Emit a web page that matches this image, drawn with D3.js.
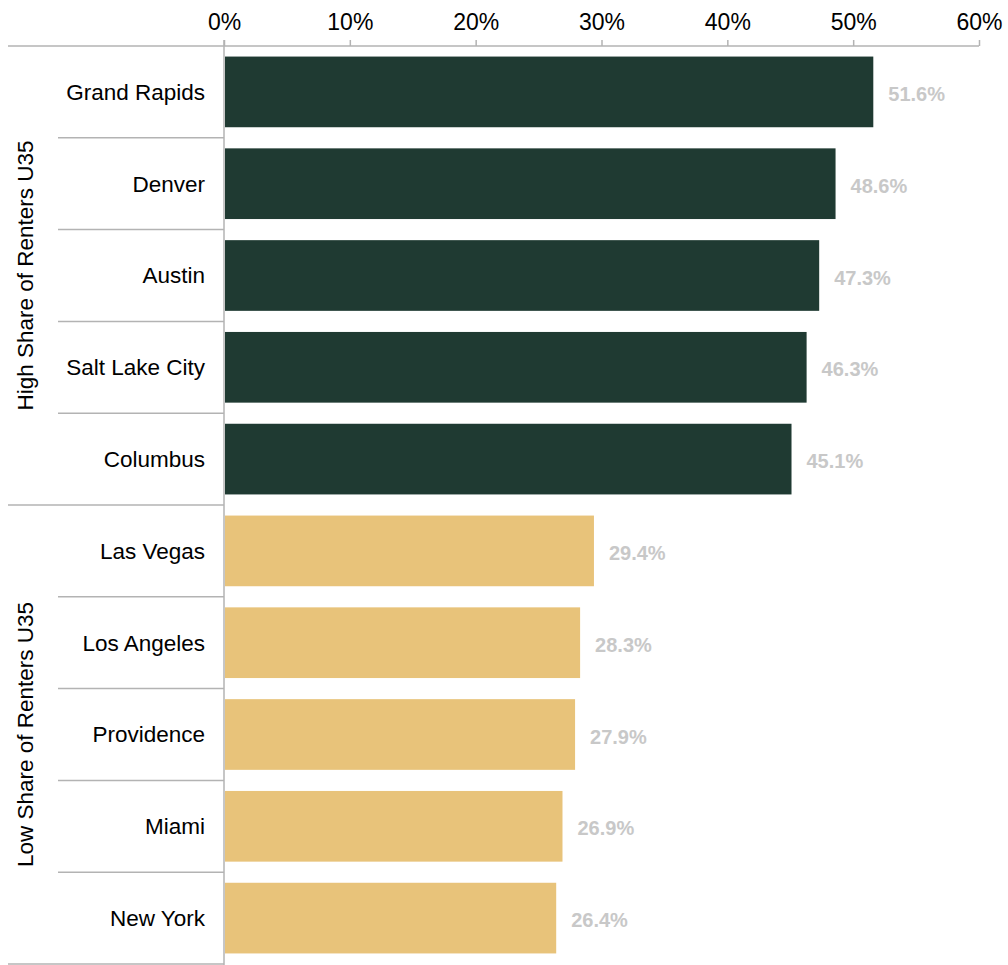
<!DOCTYPE html>
<html>
<head>
<meta charset="utf-8">
<script src="https://cdn.jsdelivr.net/npm/d3@7"></script>
<style>
  body { margin: 0; background: #fff; }
  svg text { font-family: "Helvetica Neue", Helvetica, Arial, "Liberation Sans", sans-serif; }
</style>
</head>
<body>
<div id="chart"></div>
<script>
// data
var cities = ["Grand Rapids", "Denver", "Austin", "Salt Lake City", "Columbus",
              "Las Vegas", "Los Angeles", "Providence", "Miami", "New York"];
var shares = [0.516, 0.486, 0.473, 0.463, 0.451, 0.294, 0.283, 0.279, 0.269, 0.264];
var groupOf = ["high", "high", "high", "high", "high", "low", "low", "low", "low", "low"];
var groupNames = ["high", "low"];
var groupLabels = ["High Share of Renters U35", "Low Share of Renters U35"];
var xTicks = [0, 0.1, 0.2, 0.3, 0.4, 0.5, 0.6];

var width = 1008, height = 965;
var colors = {high: "#1f3a32", low: "#e8c37a"};
var lineColor = "#b3b3b3";

var svg = d3.select("#chart").append("svg")
    .attr("width", width)
    .attr("height", height);

var x = d3.scaleLinear().domain([0, 0.6]).range([224, 979]);
var y = d3.scaleBand().domain(cities).range([46, 964]).paddingInner(0.23).paddingOuter(0.115);
var step = y.step();
var gap = step * 0.23 / 2;

// top axis
var axis = svg.append("g")
    .attr("transform", "translate(0,46)")
    .call(d3.axisTop(x).tickValues(xTicks).tickFormat(d3.format(".0%")).tickSize(6).tickSizeOuter(0));
axis.select(".domain").remove();
axis.selectAll(".tick line").attr("stroke", lineColor).attr("stroke-width", 1.5);
axis.selectAll(".tick text")
    .attr("y", -16)
    .attr("fill", "#000")
    .style("font-size", "23px");

svg.append("line")
    .attr("x1", 8).attr("x2", x(0.6))
    .attr("y1", 46).attr("y2", 46)
    .attr("stroke", lineColor).attr("stroke-width", 1.5);

// row separators (long ones close a group)
svg.append("g").selectAll("line")
    .data(cities)
    .enter().append("line")
    .attr("x1", function(d, i) {
      return (i === cities.length - 1 || groupOf[i + 1] !== groupOf[i]) ? 8 : 58;
    })
    .attr("x2", x(0))
    .attr("y1", function(d) { return y(d) + y.bandwidth() + gap; })
    .attr("y2", function(d) { return y(d) + y.bandwidth() + gap; })
    .attr("stroke", lineColor).attr("stroke-width", 1.5);

// bars
svg.append("g").selectAll("rect")
    .data(cities)
    .enter().append("rect")
    .attr("x", x(0) + 1)
    .attr("y", function(d) { return y(d); })
    .attr("width", function(d, i) { return x(shares[i]) - x(0) - 1; })
    .attr("height", y.bandwidth())
    .attr("fill", function(d, i) { return colors[groupOf[i]]; });

// value labels
svg.append("g").selectAll("text")
    .data(cities)
    .enter().append("text")
    .attr("x", function(d, i) { return x(shares[i]) + 15; })
    .attr("y", function(d) { return y(d) + y.bandwidth() / 2 + 2; })
    .attr("dy", "0.35em")
    .attr("fill", "#c8c8c8")
    .style("font-size", "20px")
    .style("font-weight", "bold")
    .text(function(d, i) { return (shares[i] * 100).toFixed(1) + "%"; });

// category labels
svg.append("g").selectAll("text")
    .data(cities)
    .enter().append("text")
    .attr("x", 205)
    .attr("y", function(d) { return y(d) + y.bandwidth() / 2; })
    .attr("dy", "0.35em")
    .attr("text-anchor", "end")
    .attr("fill", "#000")
    .style("font-size", "22.5px")
    .text(function(d) { return d; });

// vertical zero line
svg.append("line")
    .attr("x1", x(0)).attr("x2", x(0))
    .attr("y1", 40).attr("y2", height)
    .attr("stroke", lineColor).attr("stroke-width", 1.5);

// group labels
groupNames.forEach(function(g, gi) {
  var members = cities.filter(function(d, i) { return groupOf[i] === g; });
  var top = y(members[0]) - gap;
  var bottom = y(members[members.length - 1]) + y.bandwidth() + gap;
  svg.append("text")
    .attr("transform", "translate(25," + ((top + bottom) / 2) + ") rotate(-90)")
    .attr("dy", "0.35em")
    .attr("text-anchor", "middle")
    .attr("fill", "#000")
    .style("font-size", "22.5px")
    .text(groupLabels[gi]);
});
</script>
</body>
</html>
